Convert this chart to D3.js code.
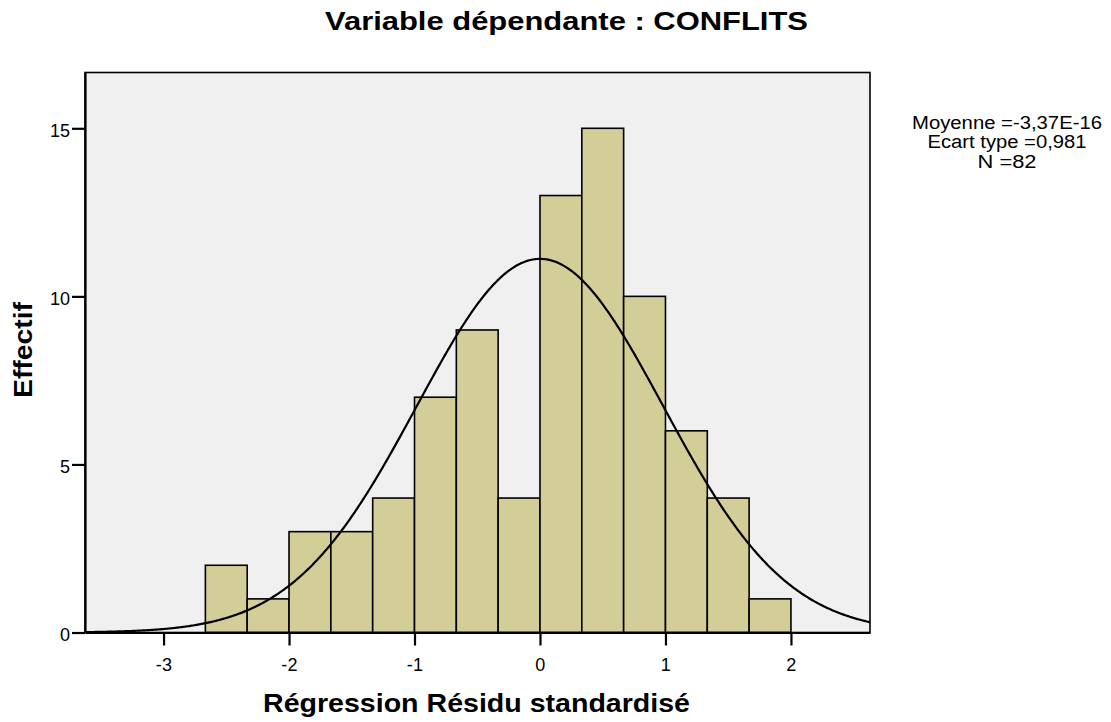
<!DOCTYPE html>
<html><head><meta charset="utf-8">
<script src="https://cdn.jsdelivr.net/npm/d3@7"></script>
<style>body{margin:0;background:#fff;font-family:"Liberation Sans",Arial,sans-serif;}</style>
</head><body>
<svg id="c" width="1111" height="722"></svg>
<script>
const binStarts = [-2.6667,-2.3333,-2,-1.6667,-1.3333,-1,-0.6667,-0.3333,0,0.3333,0.6667,1,1.3333,1.6667];
const binWidth = 1/3;
const counts = [2,1,3,3,4,7,9,4,13,15,10,6,4,1];
const xTicks = [-3,-2,-1,0,1,2];
const yTicks = [0,5,10,15];
const statsLines = ["Moyenne =-3,37E-16","Ecart type =0,981","N =82"];
const mean = -3.37e-16, sd = 0.981, N = 82;

const svg = d3.select("#c");
const L=85, R=870, T=72.5, B=632.5;
const x = d3.scaleLinear().domain([-3.626,2.63]).range([L,R]);
const y = d3.scaleLinear().domain([0,16.66]).range([B,T]);

svg.append("rect").attr("x",L).attr("y",T).attr("width",R-L).attr("height",B-T).attr("fill","#f0f0f0");
svg.append("clipPath").attr("id","pc").append("rect").attr("x",L).attr("y",T).attr("width",R-L).attr("height",B-T);

svg.append("g").selectAll("rect").data(counts).join("rect")
 .attr("x",(d,i)=>x(binStarts[i])).attr("y",d=>y(d))
 .attr("width",(d,i)=>x(binStarts[i]+binWidth)-x(binStarts[i]))
 .attr("height",d=>y(0)-y(d))
 .attr("fill","#d3ce97").attr("stroke","#000").attr("stroke-width",1.6);

// fitted normal curve from the stated mean, sd and N
const xs = d3.range(-3.626,2.64,0.01);
const pdf = v => N*binWidth*Math.exp(-0.5*((v-mean)/sd)**2)/(sd*Math.sqrt(2*Math.PI));
svg.append("path").datum(xs).attr("clip-path","url(#pc)")
 .attr("d",d3.line().x(v=>x(v)).y(v=>y(pdf(v))))
 .attr("fill","none").attr("stroke","#000").attr("stroke-width",2.2);

svg.append("rect").attr("x",L).attr("y",T).attr("width",R-L).attr("height",B-T).attr("fill","none").attr("stroke","#000").attr("stroke-width",1.6);

const fmt = d => String(d);
const xa = svg.append("g").attr("transform",`translate(0,${B})`)
 .call(d3.axisBottom(x).tickValues(xTicks).tickSize(13).tickSizeOuter(0).tickFormat(fmt));
xa.select(".domain").attr("stroke-width",2.2);
xa.selectAll(".tick line").attr("stroke-width",2.2);
xa.selectAll("text").attr("font-size",18).attr("font-family","Liberation Sans, Arial").attr("dy",0).attr("y",38).attr("fill","#000").attr("letter-spacing",0.3);

const ya = svg.append("g").attr("transform",`translate(${L},0)`)
 .call(d3.axisLeft(y).tickValues(yTicks).tickSize(13).tickSizeOuter(0).tickFormat(fmt));
ya.select(".domain").attr("stroke-width",2.2);
ya.selectAll(".tick line").attr("stroke-width",2.2);
ya.selectAll("text").attr("font-size",18).attr("font-family","Liberation Sans, Arial").attr("x",-15).attr("dy","0.45em").attr("fill","#000");

svg.append("text").attr("x",566.5).attr("y",30).attr("text-anchor","middle")
 .attr("font-size",25).attr("font-weight","bold").attr("textLength",483).attr("lengthAdjust","spacingAndGlyphs")
 .text("Variable dépendante : CONFLITS");
svg.append("text").attr("x",476.5).attr("y",712).attr("text-anchor","middle")
 .attr("font-size",25).attr("font-weight","bold").attr("textLength",427).attr("lengthAdjust","spacingAndGlyphs")
 .text("Régression Résidu standardisé");
svg.append("text").attr("transform","translate(32,350) rotate(-90)").attr("text-anchor","middle")
 .attr("font-size",25).attr("font-weight","bold").attr("textLength",96).attr("lengthAdjust","spacingAndGlyphs")
 .text("Effectif");

const statsW = [190,159,59];
svg.append("g").selectAll("text").data(statsLines).join("text")
 .attr("x",1007).attr("y",(d,i)=>128.5+i*19.5).attr("text-anchor","middle")
 .attr("font-size",18).attr("textLength",(d,i)=>statsW[i]).attr("lengthAdjust","spacingAndGlyphs").text(d=>d);
</script>
</body></html>
